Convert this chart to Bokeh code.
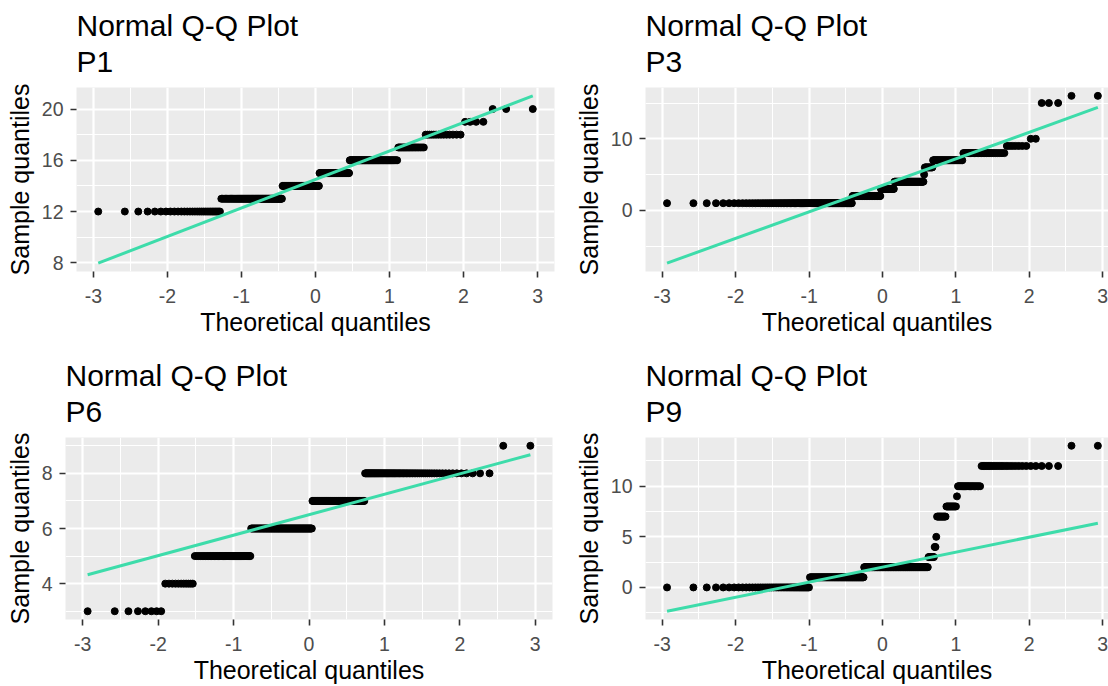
from statistics import NormalDist
import numpy as np
from bokeh.plotting import figure
from bokeh.models import Range1d, FixedTicker, Title
from bokeh.layouts import column, row
from bokeh.embed import file_html
from bokeh.resources import INLINE

# ---- data: sample values and how often each occurs ----
p1_values = [12, 13, 14, 15, 16, 17, 18, 19, 20]
p1_counts = [30, 68, 58, 47, 57, 19, 14, 4, 3]

p3_values = [1, 2, 3, 4, 5, 6, 7, 8, 9, 10, 15, 16]
p3_counts = [102, 45, 22, 45, 1, 11, 33, 27, 7, 2, 3, 2]

p6_values = [3, 4, 5, 6, 7, 8, 9]
p6_counts = [8, 11, 47, 89, 76, 67, 2]

p9_values = [0, 1, 2, 3, 4, 5, 7, 8, 9, 10, 12, 14]
p9_counts = [48, 72, 100, 8, 2, 1, 11, 11, 1, 19, 25, 2]

x_ticks = [-3, -2, -1, 0, 1, 2, 3]
p1_yticks = [8, 12, 16, 20]
p3_yticks = [0, 10]
p6_yticks = [4, 6, 8]
p9_yticks = [0, 5, 10]

panel_names = ["P1", "P3", "P6", "P9"]
main_title = "Normal Q-Q Plot"
x_label = "Theoretical quantiles"
y_label = "Sample quantiles"

FONT = "Liberation Sans"
LINE_COLOR = "#3DDCAA"


def qq(values, counts):
    sample = np.repeat(np.asarray(values, float), counts)
    n = len(sample)
    nd = NormalDist()
    theo = np.array([nd.inv_cdf((i - 0.5) / n) for i in range(1, n + 1)])
    q1, q3 = np.quantile(sample, [0.25, 0.75])
    z1, z3 = nd.inv_cdf(0.25), nd.inv_cdf(0.75)
    slope = (q3 - q1) / (z3 - z1)
    intercept = q1 - slope * z1
    lx = np.array([theo[0], theo[-1]])
    ly = intercept + slope * lx
    return theo, sample, lx, ly


def minors(ticks):
    step = ticks[1] - ticks[0]
    out = [ticks[0] - step / 2]
    out += [(a + b) / 2 for a, b in zip(ticks[:-1], ticks[1:])]
    out.append(ticks[-1] + step / 2)
    return out


def make(values, counts, yticks, name, width, height, left, right, top, bottom, visible=1.0):
    theo, sample, lx, ly = qq(values, counts)
    xlo, xhi = theo.min(), theo.max()
    xpad = 0.05 * (xhi - xlo)
    x0, x1 = xlo - xpad, xhi + xpad
    x1 = x0 + (x1 - x0) * visible
    ylo = min(sample.min(), ly.min())
    yhi = max(sample.max(), ly.max())
    ypad = 0.05 * (yhi - ylo)

    p = figure(width=width, height=height, output_backend="svg", toolbar_location=None,
               tools="", x_range=Range1d(x0, x1), y_range=Range1d(ylo - ypad, yhi + ypad),
               min_border_left=left, min_border_right=right,
               min_border_top=top, min_border_bottom=bottom, title=main_title)
    p.background_fill_color = "#EBEBEB"
    p.border_fill_color = "white"
    p.outline_line_color = None

    p.title.text_font = FONT
    p.title.text_font_size = "30px"
    p.title.text_font_style = "normal"
    p.title.text_color = "black"
    p.title.align = "left"
    p.title.vertical_align = "top"
    p.title.standoff = 2
    p.title.offset = 0
    # thin spacer between the frame and the sub-title line
    spacer = Title(text=" ", text_font=FONT, text_font_size="1px", standoff=5,
                   align="left", offset=0)
    p.add_layout(spacer, "above")
    t2 = Title(text=name, text_font=FONT, text_font_size="30px",
               text_font_style="normal", text_color="black", align="left",
               vertical_align="top", standoff=0, offset=0)
    p.add_layout(t2, "above")

    p.scatter(theo, sample, size=7, color="black")
    p.line(lx, ly, line_color=LINE_COLOR, line_width=3)

    p.xaxis.ticker = FixedTicker(ticks=x_ticks, minor_ticks=minors(x_ticks))
    p.yaxis.ticker = FixedTicker(ticks=yticks, minor_ticks=minors(yticks))
    p.xaxis.major_label_overrides = {t: str(t) for t in x_ticks}
    p.yaxis.major_label_overrides = {t: str(t) for t in yticks}
    for ax in (p.xaxis, p.yaxis):
        ax.axis_line_color = None
        ax.major_tick_line_color = "#333333"
        ax.major_tick_line_width = 1.6
        ax.major_tick_in = 0
        ax.major_tick_out = 6
        ax.minor_tick_line_color = None
        ax.major_label_text_font = FONT
        ax.major_label_text_font_size = "19.5px"
        ax.major_label_text_color = "#4D4D4D"
        ax.axis_label_text_font = FONT
        ax.axis_label_text_font_size = "25px"
        ax.axis_label_text_font_style = "normal"
        ax.axis_label_text_color = "black"
    p.xaxis.axis_label = x_label
    p.yaxis.axis_label = y_label
    p.xaxis.major_label_standoff = 11
    p.xaxis.axis_label_standoff = 2
    p.yaxis.major_label_standoff = 7
    p.yaxis.axis_label_standoff = 5

    for g in (p.xgrid, p.ygrid):
        g.grid_line_color = "white"
        g.grid_line_width = 2.2
        g.minor_grid_line_color = "white"
        g.minor_grid_line_width = 1.1
    return p


W_LEFT = 560
W_RIGHT = 1108 - W_LEFT
H_TOP = 350
H_BOT = 336
FRAME_H = 184
TOP = 87

p1 = make(p1_values, p1_counts, p1_yticks, panel_names[0], W_LEFT, H_TOP,
          76, 6, TOP, H_TOP - TOP - FRAME_H)
p3 = make(p3_values, p3_counts, p3_yticks, panel_names[1], W_RIGHT, H_TOP,
          85, 0, TOP, H_TOP - TOP - FRAME_H, visible=0.977)
p6 = make(p6_values, p6_counts, p6_yticks, panel_names[2], W_LEFT, H_BOT,
          65, 8, TOP, H_BOT - TOP - FRAME_H)
p9 = make(p9_values, p9_counts, p9_yticks, panel_names[3], W_RIGHT, H_BOT,
          85, 0, TOP, H_BOT - TOP - FRAME_H, visible=0.977)

layout = column(row(p1, p3), row(p6, p9))
open("out.html", "w").write(file_html(layout, INLINE))
